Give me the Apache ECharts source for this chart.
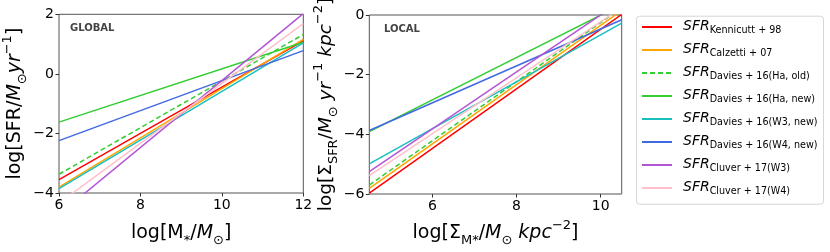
<!DOCTYPE html>
<html><head><meta charset="utf-8">
<script src="https://cdn.jsdelivr.net/npm/echarts@6/dist/echarts.min.js"></script>
<style>html,body{margin:0;padding:0;background:#fff}#c{width:830px;height:252px}</style>
</head><body><div id="c"></div>
<script>
// ---- data ----
const names = ['Kennicutt+98','Calzetti+07','Davies+16(Ha,old)','Davies+16(Ha,new)','Davies+16(W3,new)','Davies+16(W4,new)','Cluver+17(W3)','Cluver+17(W4)'];
const subs = ['Kennicutt + 98','Calzetti + 07','Davies + 16(Ha, old)','Davies + 16(Ha, new)','Davies + 16(W3, new)','Davies + 16(W4, new)','Cluver + 17(W3)','Cluver + 17(W4)'];
const colors = ['#ff0000','#ffa500','#32cd32','#32cd32','#17bfbf','#4169e1','#b455d6','#ffc0cb'];
const dashed = [false,false,true,false,false,false,false,false];

// GLOBAL panel: x endpoints and y values at those endpoints
const globalX = [6, 12];
const gKennicutt = [-3.55, 1.11];
const gCalzetti  = [-3.80, 1.16];
const gHaOld     = [-3.37, 1.32];
const gHaNew     = [-1.62, 1.06];
const gW3New     = [-3.85, 1.04];
const gW4New     = [-2.24, 0.78];
const gCluverW3  = [-4.72, 2.02];
const gCluverW4  = [-4.34, 1.69];

// LOCAL panel
const localX = [4.5, 10.5];
const lKennicutt = [-5.97, 0.02];
const lCalzetti  = [-5.81, 0.15];
const lHaOld     = [-5.70, 0.24];
const lHaNew     = [-3.91, 0.35];
const lW3New     = [-4.99, -0.27];
const lW4New     = [-3.87, -0.16];
const lCluverW3  = [-5.25, 0.48];
const lCluverW4  = [-5.38, 0.24];

const globalXTicks = [6, 8, 10, 12];
const globalYTicks = [-4, -2, 0, 2];
const localXTicks = [6, 8, 10];
const localYTicks = [-6, -4, -2, 0];

const globalY = [gKennicutt,gCalzetti,gHaOld,gHaNew,gW3New,gW4New,gCluverW3,gCluverW4];
const localY = [lKennicutt,lCalzetti,lHaOld,lHaNew,lW3New,lW4New,lCluverW3,lCluverW4];

// ---- chart ----
const FF = 'DejaVu Sans';
const fmt = v => String(v).replace('-', '\u2212');
const nameRich = {
  n: {fontSize: 19, fontFamily: FF, color: '#000', lineHeight: 28, verticalAlign: 'middle'},
  i: {fontSize: 19, fontFamily: FF, fontStyle: 'italic', color: '#000', lineHeight: 28, verticalAlign: 'middle'},
  s: {fontSize: 13, fontFamily: FF, color: '#000', lineHeight: 11, verticalAlign: 'bottom'},
  p: {fontSize: 13, fontFamily: FF, color: '#000', lineHeight: 10, verticalAlign: 'top'}
};
const axisCommon = {
  axisLine: {show: false, onZero: false},
  splitLine: {show: false},
  axisTick: {show: true, inside: false, length: 3.5, lineStyle: {color: '#333', width: 1}},
  axisLabel: {fontSize: 14, fontFamily: FF, color: '#000', formatter: fmt}
};

const series = [];
names.forEach((nm, k) => {
  series.push({
    name: nm, type: 'line', xAxisIndex: 0, yAxisIndex: 0, symbol: 'none', clip: true,
    data: globalX.map((x, j) => [x, globalY[k][j]]),
    lineStyle: {color: colors[k], width: 1.5, type: dashed[k] ? [5, 3] : 'solid'},
    itemStyle: {color: colors[k]}, z: 2 + k, animation: false
  });
  series.push({
    name: nm, type: 'line', xAxisIndex: 1, yAxisIndex: 1, symbol: 'none', clip: true,
    data: localX.map((x, j) => [x, localY[k][j]]),
    lineStyle: {color: colors[k], width: 1.5, type: dashed[k] ? [5, 3] : 'solid'},
    itemStyle: {color: colors[k]}, z: 2 + k, animation: false
  });
});

const chart = echarts.init(document.getElementById('c'), null, {renderer: 'canvas'});
chart.setOption({
  animation: false,
  backgroundColor: '#fff',
  grid: [
    {left: 55.3, top: 14.3, width: 248, height: 186, show: true, borderColor: '#555', borderWidth: 1, backgroundColor: 'transparent'},
    {left: 369.3, top: 15, width: 252.4, height: 187.7, show: true, borderColor: '#555', borderWidth: 1, backgroundColor: 'transparent'}
  ],
  xAxis: [
    Object.assign({}, axisCommon, {type: 'value', gridIndex: 0, min: 6, max: 12,
      axisTick: Object.assign({}, axisCommon.axisTick, {customValues: globalXTicks}),
      axisLabel: Object.assign({}, axisCommon.axisLabel, {margin: 5, customValues: globalXTicks}),
      name: '{n|log[M}{s|*}{n|/}{i|M}{s|\u2299}{n|]}', nameLocation: 'middle', nameGap: 26,
      nameTextStyle: {rich: nameRich}}),
    Object.assign({}, axisCommon, {type: 'value', gridIndex: 1, min: 4.5, max: 10.5,
      axisTick: Object.assign({}, axisCommon.axisTick, {customValues: localXTicks}),
      axisLabel: Object.assign({}, axisCommon.axisLabel, {margin: 5, customValues: localXTicks}),
      name: '{n|log[\u03A3}{s|M*}{n|/}{i|M}{s|\u2299}{i| kpc}{p|\u22122}{n|]}', nameLocation: 'middle', nameGap: 25,
      nameTextStyle: {rich: nameRich}})
  ],
  yAxis: [
    Object.assign({}, axisCommon, {type: 'value', gridIndex: 0, min: -4, max: 2,
      axisTick: Object.assign({}, axisCommon.axisTick, {customValues: globalYTicks}),
      axisLabel: Object.assign({}, axisCommon.axisLabel, {margin: 5, customValues: globalYTicks}),
      name: '{n|log[SFR/}{i|M}{s|\u2299}{i|yr}{p|\u22121}{n|]}', nameLocation: 'middle', nameGap: 30, nameRotate: 90,
      nameTextStyle: {rich: nameRich}}),
    Object.assign({}, axisCommon, {type: 'value', gridIndex: 1, min: -6, max: 0,
      axisTick: Object.assign({}, axisCommon.axisTick, {customValues: localYTicks}),
      axisLabel: Object.assign({}, axisCommon.axisLabel, {margin: 5, customValues: localYTicks}),
      name: '{n|log[\u03A3}{s|SFR}{n|/}{i|M}{s|\u2299}{i| yr}{p|\u22121}{i| kpc}{p|\u22122}{n|]}', nameLocation: 'middle', nameGap: 29, nameRotate: 90,
      nameTextStyle: {rich: Object.assign({}, nameRich, {
        n: Object.assign({}, nameRich.n, {fontSize: 18.5}),
        i: Object.assign({}, nameRich.i, {fontSize: 18.5})
      })}})
  ],
  legend: {
    orient: 'vertical', left: 641, top: 19, padding: 0, itemWidth: 30, itemHeight: 14, itemGap: 7,
    itemStyle: {opacity: 0},
    data: names,
    formatter: nm => '{a|SFR}{b|' + subs[names.indexOf(nm)] + '}',
    textStyle: {rich: {
      a: {fontSize: 14, fontFamily: FF, fontStyle: 'italic', color: '#000', lineHeight: 16, verticalAlign: 'top', padding: [0, 0, 0, 6]},
      b: {fontSize: 9.6, fontFamily: FF, color: '#000', lineHeight: 10, verticalAlign: 'bottom'}
    }}
  },
  graphic: [
    {type: 'rect', left: 636, top: 15.7, shape: {width: 187, height: 188, r: 3},
      style: {fill: '#fff', stroke: '#d6d6d6', lineWidth: 1}, z: -1},
    {type: 'text', left: 70, top: 23, style: {text: 'GLOBAL', font: 'bold 10px "DejaVu Sans"', fill: '#444'}},
    {type: 'text', left: 384, top: 24, style: {text: 'LOCAL', font: 'bold 10px "DejaVu Sans"', fill: '#444'}}
  ],
  series: series
});
</script></body></html>
